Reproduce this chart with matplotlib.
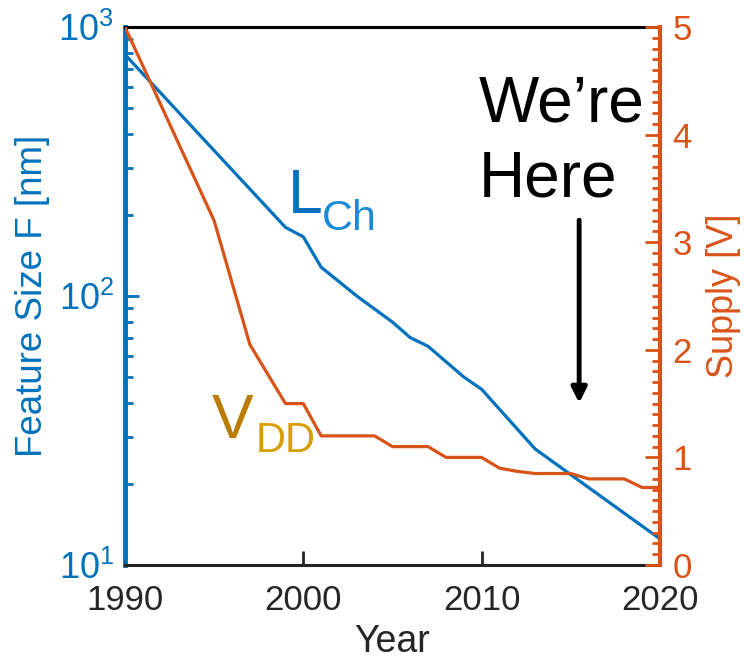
import matplotlib
matplotlib.use("Agg")
import matplotlib.pyplot as plt
from matplotlib.ticker import FixedLocator, NullFormatter, LogLocator, MultipleLocator

plt.rcParams['font.family'] = ['Liberation Sans', 'DejaVu Sans']
plt.rcParams['mathtext.default'] = 'regular'

# Data
lch_years = [1990, 1999, 2000, 2001, 2003, 2005, 2006, 2007, 2009, 2010, 2013, 2020]
lch_nm = [790, 180, 166, 128, 100, 80, 70, 65, 50, 45, 27, 12.5]

vdd_years = [1990, 1995, 1997, 1999, 2000, 2001, 2004, 2005, 2007, 2008, 2010,
             2011, 2012, 2013, 2015, 2016, 2018, 2019, 2020]
vdd_v = [5, 3.2, 2.05, 1.5, 1.5, 1.2, 1.2, 1.1, 1.1, 1.0, 1.0,
         0.9, 0.87, 0.85, 0.85, 0.8, 0.8, 0.72, 0.72]

x_ticks = [1990, 2000, 2010, 2020]
left_ticks = [10, 100, 1000]
left_labels = ['$10^1$', '$10^2$', '$10^3$']
right_ticks = [0, 1, 2, 3, 4, 5]

BLUE = '#0072BD'
ORANGE = '#D95319'
DARK = '#262626'

fig = plt.figure(figsize=(7.44, 6.6), dpi=100)
ax = fig.add_axes([0.168, 0.144, 0.719, 0.815])
ax2 = ax.twinx()

ax.plot(lch_years, lch_nm, color=BLUE, lw=2.3, solid_joinstyle='round')
ax2.plot(vdd_years, vdd_v, color=ORANGE, lw=2.3, solid_joinstyle='round')

ax.set_yscale('log')
ax.set_xlim(1990, 2020)
ax.set_ylim(10, 1000)
ax2.set_ylim(0, 5)

ax.set_xticks(x_ticks)
ax.set_xticklabels([str(t) for t in x_ticks])
ax.yaxis.set_major_locator(FixedLocator(left_ticks))
ax.set_yticklabels(left_labels)
ax.yaxis.set_minor_locator(LogLocator(base=10, subs=range(2, 10)))
ax.yaxis.set_minor_formatter(NullFormatter())

ax2.set_yticks(right_ticks)
ax2.yaxis.set_minor_locator(MultipleLocator(0.1))

ax.tick_params(axis='x', direction='in', length=10, width=2, colors=DARK,
               labelsize=25, pad=14, top=False)
ax.tick_params(axis='y', which='major', direction='in', length=10, width=2,
               colors=BLUE, labelsize=26, pad=8)
ax.tick_params(axis='y', which='minor', direction='in', length=6, width=2, colors=BLUE)
ax2.tick_params(axis='y', which='major', direction='in', length=11, width=2,
                colors=ORANGE, labelsize=25, pad=9)
ax2.tick_params(axis='y', which='minor', direction='in', length=6, width=2, colors=ORANGE)

for s in ['left', 'right', 'top', 'bottom']:
    ax2.spines[s].set_visible(False)
ax2.spines['right'].set_visible(True)
ax2.spines['right'].set_color(ORANGE)
ax2.spines['right'].set_linewidth(3)
ax.spines['right'].set_visible(False)
ax.spines['left'].set_color(BLUE)
ax.spines['left'].set_linewidth(3.5)
ax.spines['top'].set_color('black')
ax.spines['top'].set_linewidth(2.2)
ax.spines['bottom'].set_color(DARK)
ax.spines['bottom'].set_linewidth(2.2)

ax.set_xlabel('Year', fontsize=27, color=DARK, labelpad=5)
ax.set_ylabel('Feature Size F [nm]', fontsize=26.5, color=BLUE, labelpad=6)
ax2.set_ylabel('Supply [V]', fontsize=26, color=ORANGE, labelpad=10)

# Annotations
ax.text(0.661, 0.825, 'We\u2019re', transform=ax.transAxes, fontsize=46,
        ha='left', va='baseline', color='black')
ax.text(0.661, 0.685, 'Here', transform=ax.transAxes, fontsize=46,
        ha='left', va='baseline', color='black')
ax.annotate('', xy=(0.849, 0.301), xytext=(0.849, 0.641),
            xycoords='axes fraction', textcoords='axes fraction',
            arrowprops=dict(arrowstyle='-|>,head_length=0.9,head_width=0.45',
                            color='black', lw=3.5, shrinkA=0, shrinkB=0))

ax.text(0.304, 0.654, 'L', transform=ax.transAxes, fontsize=45,
        color=BLUE, va='baseline', ha='left')
ax.text(0.368, 0.623, 'Ch', transform=ax.transAxes, fontsize=31,
        color='#1A8AD4', va='baseline', ha='left')
ax.text(0.162, 0.236, 'V', transform=ax.transAxes, fontsize=45,
        color='#B97C00', va='baseline', ha='left')
ax.text(0.245, 0.210, 'DD', transform=ax.transAxes, fontsize=30,
        color='#D69E00', va='baseline', ha='left')

fig.savefig('out.png', dpi=100)
